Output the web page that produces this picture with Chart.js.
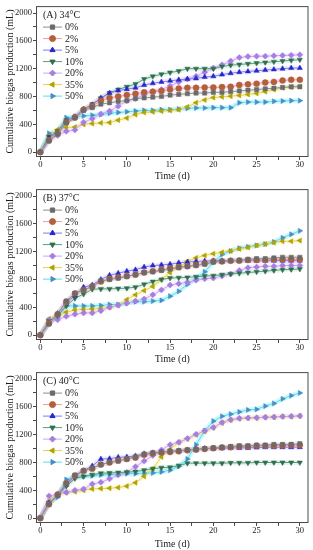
<!DOCTYPE html>
<html>
<head>
<meta charset="utf-8">
<script src="https://cdn.jsdelivr.net/npm/chart.js@4.4.1/dist/chart.umd.min.js"></script>
<style>
  body { margin: 0; background: #fff; }
  canvas { position: absolute; left: 0; }
</style>
</head>
<body>
<canvas id="c34" style="top:0px" width="313" height="182"></canvas>
<canvas id="c37" style="top:183px" width="313" height="182"></canvas>
<canvas id="c40" style="top:366px" width="313" height="184"></canvas>
<script>
const DAYS = [0,1,2,3,4,5,6,7,8,9,10,11,12,13,14,15,16,17,18,19,20,21,22,23,24,25,26,27,28,29,30];
const SERIES_LABELS = ["0%", "2%", "5%", "10%", "20%", "35%", "50%"];
const X_TICKS = [0, 5, 10, 15, 20, 25, 30];
const Y_TICKS = [0, 400, 800, 1200, 1600, 2000];

// (A) 34°C
const T34_0  = [0,160,260,420,490,600,640,690,710,730,740,770,780,790,800,820,830,840,850,850,860,860,870,880,890,900,910,920,930,940,940];
const T34_2  = [0,170,270,430,500,610,660,740,780,800,820,840,860,870,880,900,915,925,925,930,930,935,940,965,975,985,1000,1010,1030,1040,1040];
const T34_5  = [0,200,280,440,510,620,680,780,850,885,905,925,965,990,1010,1025,1040,1050,1060,1080,1090,1115,1135,1150,1160,1170,1180,1190,1200,1210,1210];
const T34_10 = [0,225,300,460,500,610,690,775,850,900,940,980,1050,1090,1120,1145,1165,1200,1200,1200,1200,1230,1250,1260,1270,1280,1290,1300,1310,1320,1330];
const T34_20 = [0,190,240,300,320,430,480,550,590,660,740,770,830,870,900,950,1010,1050,1090,1150,1210,1255,1310,1360,1375,1380,1380,1385,1390,1395,1400];
const T34_35 = [0,230,325,355,360,400,410,420,425,460,490,540,570,580,590,600,610,650,710,750,785,795,805,815,830,845,870,900,925,935,945];
const T34_50 = [0,270,290,495,510,520,530,540,560,570,580,590,600,600,610,610,620,630,635,635,640,640,640,710,720,720,720,730,735,740,740];

// (B) 37°C
const T37_0  = [0,160,300,490,600,650,700,780,800,820,840,870,900,910,930,950,970,990,1000,1020,1050,1060,1070,1080,1090,1100,1100,1110,1120,1120,1120];
const T37_2  = [0,170,300,480,600,650,700,770,810,830,850,870,900,920,940,960,980,990,1010,1030,1060,1060,1070,1070,1080,1080,1080,1090,1090,1090,1090];
const T37_5  = [0,170,310,470,570,690,720,800,860,890,920,940,980,1000,1010,1020,1040,1050,1060,1065,1070,1070,1070,1070,1070,1070,1070,1070,1070,1070,1070];
const T37_10 = [0,200,280,420,530,590,660,665,665,670,675,690,730,770,800,820,825,830,840,850,855,870,880,890,900,910,920,930,940,945,950];
const T37_20 = [0,220,220,270,300,320,320,350,400,430,460,490,520,580,650,720,740,760,790,810,820,850,880,930,970,980,990,990,1000,1000,1000];
const T37_35 = [0,235,270,330,360,370,375,380,400,430,510,580,640,700,800,900,970,1060,1110,1145,1170,1190,1210,1240,1260,1290,1310,1330,1350,1350,1360];
const T37_50 = [0,180,260,420,420,420,420,425,440,440,460,480,480,490,500,560,630,730,810,910,1050,1160,1210,1250,1270,1290,1310,1340,1400,1450,1500];

// (C) 40°C
const T40_0  = [0,200,330,500,620,680,720,770,800,820,850,880,920,940,950,960,970,980,990,1000,1010,1020,1030,1040,1040,1050,1050,1060,1060,1060,1070];
const T40_2  = [0,200,340,500,610,680,710,770,800,830,850,870,910,930,940,950,960,975,985,995,1005,1015,1020,1030,1030,1040,1040,1040,1045,1050,1050];
const T40_5  = [0,220,330,480,600,680,750,850,855,875,880,895,925,940,950,960,970,980,990,1000,1000,1005,1010,1010,1010,1015,1020,1020,1020,1020,1020];
const T40_10 = [0,220,330,460,570,600,625,645,650,655,660,670,690,710,725,730,755,790,790,790,790,790,795,795,795,800,800,800,800,800,800];
const T40_20 = [0,320,340,370,400,420,490,515,565,620,660,740,820,900,980,1055,1090,1145,1205,1255,1305,1375,1415,1435,1440,1445,1450,1455,1460,1465,1470];
const T40_35 = [0,240,340,370,380,400,420,425,430,440,460,510,600,710,880,990,1090,1140,1200,1250,1300,1370,1410,1430,1440,1440,1450,1450,1460,1460,1470];
const T40_50 = [0,230,300,555,590,600,610,620,630,630,640,640,645,650,665,690,745,850,1055,1255,1395,1465,1495,1528,1556,1565,1612,1650,1715,1762,1800];

const LINE_COLORS   = ["#8c8c8c", "#f29a9a", "#7b7bf5", "#5c9c7c", "#c9a6f2", "#e3d24a", "#4fe0ee"];
const HALO_COLORS   = ["rgba(150,150,150,0.12)", "rgba(250,150,190,0.22)", "rgba(120,120,250,0.14)", "rgba(90,170,130,0.14)",
                       "rgba(210,160,250,0.18)", "rgba(240,220,90,0.18)", "rgba(80,230,240,0.28)"];
const MARKER_COLORS = ["#6b6b6b", "#b35f3c", "#2727c9", "#2f6f4f", "#a57de3", "#b3a200", "#4b8cc4"];
const POINT_STYLES  = ["rect", "circle", "triangle", "triangle", "rectRot", "triangle", "triangle"];
const ROTATIONS     = [0, 0, 0, 180, 0, 270, 90];

const FONT = "'Liberation Serif', 'Times New Roman', serif";

const framePlugin = {
  id: "frame",
  afterDatasetsDraw(chart, args, opts) {
    const { ctx, chartArea: a } = chart;
    ctx.save();
    ctx.strokeStyle = "#4a4a4a";
    ctx.lineWidth = 1;
    ctx.strokeRect(a.left + 0.5, a.top + 0.5, a.right - a.left - 1, a.bottom - a.top - 1);

    // legend in the top-left corner
    ctx.font = "10px " + FONT;
    ctx.fillStyle = "#1a1a1a";
    ctx.textBaseline = "middle";
    ctx.fillText(opts.title, a.left + 7, a.top + 9);
    chart.data.datasets.filter((ds) => !ds.halo).forEach((ds, i) => {
      const y = a.top + 21 + i * 11.5;
      const x0 = a.left + 7;
      ctx.strokeStyle = ds.borderColor;
      ctx.lineWidth = 1;
      ctx.beginPath();
      ctx.moveTo(x0, y);
      ctx.lineTo(x0 + 19, y);
      ctx.stroke();
      ctx.fillStyle = ds.pointBackgroundColor;
      ctx.strokeStyle = ds.pointBorderColor;
      Chart.helpers.drawPoint(ctx, { pointStyle: ds.pointStyle, rotation: ds.pointRotation, radius: 3, borderWidth: 0.5 }, x0 + 9.5, y);
      ctx.fillStyle = "#1a1a1a";
      ctx.fillText(ds.label, x0 + 22, y + 0.5);
    });
    ctx.restore();
  }
};

function withMinor(major) {
  const out = [];
  major.forEach((v, i) => {
    out.push(v);
    if (i < major.length - 1) out.push((v + major[i + 1]) / 2);
  });
  return out;
}

function makeChart(id, title, series, xAxisHeight) {
  const points = series.map((vals) => DAYS.map((d, k) => ({ x: d, y: vals[k] })));
  // soft colour bands under each curve
  const halos = points.map((data, i) => ({
    halo: true,
    data,
    borderColor: HALO_COLORS[i],
    borderWidth: 5,
    pointRadius: 0,
    order: 10
  }));
  const lines = points.map((data, i) => ({
    label: SERIES_LABELS[i],
    data,
    borderColor: LINE_COLORS[i],
    borderWidth: 1,
    pointBackgroundColor: MARKER_COLORS[i],
    pointBorderColor: MARKER_COLORS[i],
    pointBorderWidth: 0.5,
    pointStyle: POINT_STYLES[i],
    pointRotation: ROTATIONS[i],
    pointRadius: 3,
    order: 1
  }));

  return new Chart(document.getElementById(id), {
    type: "line",
    data: { datasets: halos.concat(lines) },
    plugins: [framePlugin],
    options: {
      responsive: false,
      animation: false,
      devicePixelRatio: 1,
      layout: { padding: { top: 4, right: 4, left: 0, bottom: 0 } },
      plugins: {
        legend: { display: false },
        tooltip: { enabled: false },
        frame: { title }
      },
      scales: {
        x: {
          type: "linear",
          min: -0.5,
          max: 31,
          afterBuildTicks: (scale) => { scale.ticks = withMinor(X_TICKS).map((v) => ({ value: v })); },
          afterFit: (scale) => { scale.height = xAxisHeight; },
          ticks: {
            autoSkip: false,
            maxRotation: 0,
            padding: 0,
            color: "#1a1a1a",
            font: { family: FONT, size: 8.5 },
            callback: (v) => (X_TICKS.includes(v) ? v : "")
          },
          grid: { drawOnChartArea: false, tickLength: 3, color: "#4a4a4a" },
          border: { display: false },
          title: {
            display: true,
            text: "Time (d)",
            color: "#1a1a1a",
            font: { family: FONT, size: 10 },
            padding: { top: 0, bottom: 0 }
          }
        },
        y: {
          min: -70,
          max: 2100,
          afterBuildTicks: (scale) => { scale.ticks = withMinor(Y_TICKS).map((v) => ({ value: v })); },
          afterFit: (scale) => { scale.width = 36; },
          ticks: {
            autoSkip: false,
            padding: 1,
            color: "#1a1a1a",
            font: { family: FONT, size: 8.5 },
            callback: (v) => (Y_TICKS.includes(v) ? v : "")
          },
          grid: { drawOnChartArea: false, tickLength: 3, color: "#4a4a4a" },
          border: { display: false },
          title: {
            display: true,
            text: "Cumulative biogas production (mL)",
            color: "#1a1a1a",
            font: { family: FONT, size: 10 },
            padding: { top: 4, bottom: 0 }
          }
        }
      }
    }
  });
}

makeChart("c34", "(A) 34°C", [T34_0, T34_2, T34_5, T34_10, T34_20, T34_35, T34_50], 25);
makeChart("c37", "(B) 37°C", [T37_0, T37_2, T37_5, T37_10, T37_20, T37_35, T37_50], 25);
makeChart("c40", "(C) 40°C", [T40_0, T40_2, T40_5, T40_10, T40_20, T40_35, T40_50], 27);
</script>
</body>
</html>
